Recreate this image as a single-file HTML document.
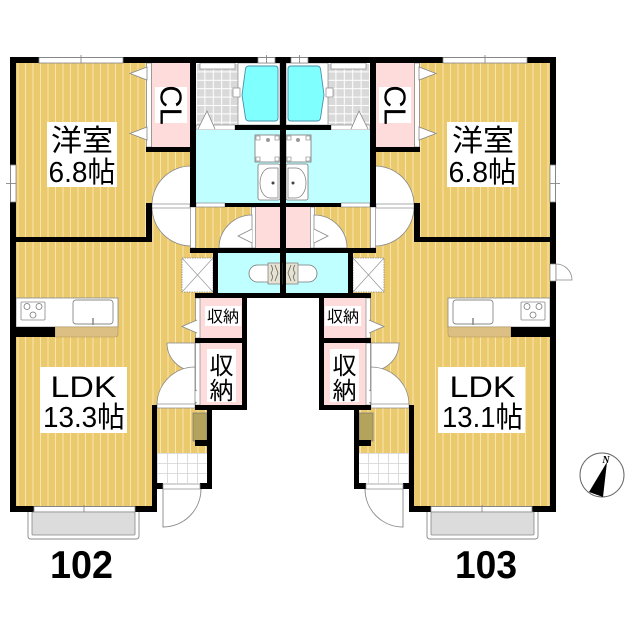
<!DOCTYPE html>
<html><head><meta charset="utf-8"><style>
html,body{margin:0;padding:0;background:#fff}
svg{display:block}
text{font-family:"Liberation Sans","Noto Sans CJK JP",sans-serif;fill:#000}
</style></head><body>
<svg width="640" height="640" viewBox="0 0 640 640" xmlns="http://www.w3.org/2000/svg">
<defs>
<pattern id="fl" patternUnits="userSpaceOnUse" x="25" y="0" width="7.5" height="10">
<rect width="7.5" height="10" fill="#ebc96d"/><rect width="1" height="10" fill="#f7e6b0"/>
</pattern>
<pattern id="tile" patternUnits="userSpaceOnUse" x="196" y="63" width="8.4" height="8.4">
<rect width="8.4" height="8.4" fill="#d9d9d9"/><path d="M0 0.5H8.4M0.5 0V8.4" stroke="#fff" stroke-width="1"/>
</pattern>
<pattern id="gt" patternUnits="userSpaceOnUse" x="157" y="453" width="10" height="10">
<rect width="10" height="10" fill="#fff"/><path d="M0 0.5H10M0.5 0V10" stroke="#d4d4d4" stroke-width="0.8"/>
</pattern>
<g id="u">
<!-- floors -->
<rect x="16" y="63" width="197" height="347" fill="url(#fl)"/>
<rect x="16" y="410" width="136" height="96" fill="url(#fl)"/>
<rect x="196" y="207" width="59" height="41" fill="url(#fl)"/>
<rect x="157" y="410" width="50" height="43" fill="url(#fl)"/>
<rect x="157" y="453" width="50" height="30" fill="url(#gt)"/>
<!-- CL -->
<rect x="152" y="63" width="38" height="84" fill="#ffdcdc"/>
<rect x="146.5" y="63" width="5" height="84" fill="#fff" stroke="#888" stroke-width="0.8"/>
<path d="M147,67 L130,73.5 L147,80 Z M147,127 L130,133.5 L147,140 Z" fill="#fff" stroke="#888" stroke-width="0.8"/>
<!-- bath -->
<rect x="196" y="63" width="42" height="62" fill="url(#tile)"/>
<rect x="200" y="63" width="35" height="6" fill="#fff" stroke="#888" stroke-width="0.7"/>
<rect x="196" y="125" width="39" height="5" fill="#fff" stroke="#888" stroke-width="0.7"/>
<path d="M198,129 L207,111 L215,129" fill="#fff" stroke="#888" stroke-width="0.8"/>
<rect x="238" y="63" width="42" height="62" fill="#fff" stroke="#888" stroke-width="0.7"/>
<path d="M249,66 L275,66 Q278,66 278,69 L278,118 Q278,121 275,121 L249,121 Q246,121 245.5,118 L242,95 L245.5,69 Q246,66 249,66 Z" fill="#80ffff" stroke="#4a8fa8" stroke-width="0.9"/>
<rect x="233" y="88" width="7" height="9" fill="#fff" stroke="#888" stroke-width="0.7"/>
<!-- washroom -->
<rect x="196" y="130" width="84" height="73" fill="#c0ffff"/>
<rect x="255" y="135" width="25" height="27" fill="#fff" stroke="#777" stroke-width="0.8"/>
<path d="M256,136h4v4h-4z M275,136h4v4h-4z M256,157h4v4h-4z M275,157h4v4h-4z" fill="none" stroke="#777" stroke-width="0.6"/>
<circle cx="268" cy="140" r="2" fill="#999"/>
<rect x="258" y="164" width="22" height="36" rx="2" fill="#fff" stroke="#777" stroke-width="0.8"/>
<path d="M278,168 H270 A10 15 0 0 0 270,198 H278 Z" fill="#fff" stroke="#777" stroke-width="0.7"/>
<circle cx="273" cy="183" r="1.5" fill="#444"/>
<rect x="196" y="203" width="29" height="4" fill="#fff" stroke="#888" stroke-width="0.7"/>
<!-- doors near 洋室 -->
<path d="M191,205 L152,205 A39 39 0 0 1 191,166 Z" fill="#fff" stroke="#888" stroke-width="0.8"/>
<path d="M191,207 L191,246 A39 39 0 0 1 152,207 Z" fill="#fff" stroke="#888" stroke-width="0.8"/>
<rect x="152" y="204" width="38" height="4" fill="#fff" stroke="#888" stroke-width="0.7"/>
<rect x="190.5" y="207" width="5" height="41" fill="#fff" stroke="#888" stroke-width="0.7"/>
<!-- hallway storage -->
<rect x="255" y="207" width="25" height="41" fill="#ffdcdc"/>
<rect x="251.5" y="207" width="4" height="41" fill="#fff" stroke="#888" stroke-width="0.7"/>
<path d="M252,248 L219,248 A33 33 0 0 1 252,215 Z" fill="#fff" stroke="#888" stroke-width="0.8"/>
<path d="M252,229 L238,236 L252,243" fill="#fff" stroke="#888" stroke-width="0.8"/>
<!-- toilet -->
<rect x="218" y="253" width="62" height="40" fill="#c0ffff"/>
<path d="M283,265 H257.5 A8.5 8.5 0 0 0 257.5,282 H283" fill="#fff" stroke="#777" stroke-width="0.8"/>
<rect x="268" y="263" width="15" height="21" fill="#e6e2d2" stroke="#777" stroke-width="0.7"/>
<path d="M271,265 q3,4 0,8 q3,4 0,8 M275,265 l3,8 l-3,8" fill="none" stroke="#666" stroke-width="0.8"/>
<!-- hatched box -->
<rect x="182" y="258" width="31" height="34" fill="#fff" stroke="#888" stroke-width="0.8" stroke-dasharray="1.5,1"/>
<path d="M182,258 L213,292 M213,258 L182,292" stroke="#999" stroke-width="0.7"/>
<!-- storages -->
<rect x="200" y="298" width="42" height="40" fill="#ffdcdc"/>
<rect x="200" y="343" width="42" height="62" fill="#ffdcdc"/>
<rect x="195.5" y="298" width="4.5" height="40" fill="#fff" stroke="#888" stroke-width="0.7"/>
<rect x="195.5" y="343" width="4.5" height="62" fill="#fff" stroke="#888" stroke-width="0.7"/>
<path d="M197,320 L182,326.5 L197,333 M197,390 L184,396.5 L197,403" fill="#fff" stroke="#888" stroke-width="0.8"/>
<path d="M195,343 L195,371 A28 28 0 0 1 167,343 Z" fill="#fff" stroke="#888" stroke-width="0.8"/>
<path d="M195,405 L157,405 A38 38 0 0 1 195,367 Z" fill="#fff" stroke="#888" stroke-width="0.8"/>
<rect x="157" y="404" width="38" height="4" fill="#fff" stroke="#888" stroke-width="0.7"/>
<!-- entrance -->
<rect x="193" y="413" width="14" height="28" fill="#b3a35c" stroke="#777" stroke-width="0.7"/>
<path d="M163,489 V527 A38 38 0 0 0 201,489" fill="#fff" stroke="#888" stroke-width="0.9"/>
<!-- kitchen -->
<rect x="16" y="298" width="102" height="29" fill="#fff" stroke="#888" stroke-width="0.8"/>
<rect x="21" y="302" width="24" height="18" rx="1" fill="none" stroke="#888" stroke-width="0.8"/>
<circle cx="27" cy="306.5" r="3" fill="none" stroke="#777" stroke-width="0.8"/>
<circle cx="39" cy="306.5" r="3" fill="none" stroke="#777" stroke-width="0.8"/>
<circle cx="33" cy="315" r="3" fill="none" stroke="#777" stroke-width="0.8"/>
<rect x="73" y="300" width="40" height="24" rx="3" fill="none" stroke="#888" stroke-width="0.9"/>
<path d="M93,318 V325" stroke="#888" stroke-width="1.5"/>
<path d="M55,327 H118 V334 Q118,337 115,337 H55 Z" fill="#dcc083" stroke="#b49458" stroke-width="0.6"/>
<!-- walls -->
<g fill="#000">
<rect x="10" y="57" width="273" height="6"/>
<rect x="10" y="57" width="6" height="455"/>
<rect x="10" y="237" width="142" height="5"/>
<rect x="146" y="203" width="6" height="39"/>
<rect x="146" y="147" width="50" height="5"/>
<rect x="190" y="57" width="6" height="150"/>
<rect x="235" y="125" width="48" height="5"/>
<rect x="225" y="203" width="58" height="4"/>
<rect x="280" y="57" width="3" height="241"/>
<rect x="190" y="248" width="93" height="5"/>
<rect x="213" y="248" width="5" height="50"/>
<rect x="195" y="293" width="88" height="5"/>
<rect x="242" y="293" width="5" height="117"/>
<rect x="195" y="338" width="52" height="5"/>
<rect x="195" y="405" width="52" height="5"/>
<rect x="10" y="506" width="147" height="6"/>
<rect x="152" y="405" width="5" height="107"/>
<rect x="207" y="405" width="5" height="84"/>
<rect x="152" y="483" width="11" height="6"/>
<rect x="200" y="483" width="12" height="6"/>
<rect x="195" y="440" width="12" height="6"/>
<rect x="16" y="327" width="39" height="10"/>
</g>
<rect x="163" y="484" width="37" height="5" fill="#fff" stroke="#888" stroke-width="0.7"/>
<!-- windows -->
<rect x="39" y="57.5" width="84" height="5.5" fill="#fff" stroke="#888" stroke-width="0.8"/>
<path d="M81,55 V63" stroke="#888" stroke-width="0.9"/>
<rect x="10.5" y="165" width="5.5" height="37" fill="#fff" stroke="#888" stroke-width="0.8"/>
<path d="M6,183.5 H16" stroke="#888" stroke-width="0.9"/>
<rect x="258" y="57.5" width="17" height="5.5" fill="#fff" stroke="#888" stroke-width="0.8"/>
<path d="M266.5,55 V63" stroke="#888" stroke-width="0.9"/>
<rect x="34" y="506.5" width="101" height="5.5" fill="#fff" stroke="#888" stroke-width="0.8"/>
<path d="M84,505 V514" stroke="#888" stroke-width="0.9"/>
<path d="M28,512 V536 Q28,539 31,539 H136 Q139,539 139,536 V512" fill="none" stroke="#888" stroke-width="0.9"/>
<rect x="32" y="512" width="103" height="23" rx="1" fill="#dcdcdc" stroke="#888" stroke-width="0.8"/>
</g>
</defs>
<rect width="640" height="640" fill="#fff"/>
<use href="#u"/>
<use href="#u" transform="translate(566,0) scale(-1,1)"/>
<!-- right unit exterior door -->
<rect x="550" y="264" width="6" height="17" fill="#fff" stroke="#888" stroke-width="0.7"/>
<path d="M556,280 V264 A16 16 0 0 1 572,280 Z" fill="#fff" stroke="#888" stroke-width="0.8"/>
<!-- label backgrounds -->
<g fill="#fff">
<rect x="47" y="122" width="70" height="65"/>
<rect x="40" y="367" width="87" height="66"/>
<rect x="155" y="87" width="32" height="36"/>
<rect x="205" y="306" width="36" height="20"/>
<rect x="207" y="349" width="29" height="53"/>
<rect x="447" y="122" width="71" height="65"/>
<rect x="438" y="367" width="87" height="66"/>
<rect x="379" y="87" width="32" height="36"/>
<rect x="325" y="306" width="36" height="20"/>
<rect x="330" y="349" width="29" height="53"/>
</g>
<!-- texts -->
<text x="82" y="151" font-size="30" text-anchor="middle" textLength="62" lengthAdjust="spacingAndGlyphs">洋室</text>
<text x="82" y="182" font-size="29" text-anchor="middle" textLength="67" lengthAdjust="spacingAndGlyphs">6.8帖</text>
<text x="83.5" y="397" font-size="30" text-anchor="middle" textLength="66" lengthAdjust="spacingAndGlyphs">LDK</text>
<text x="84" y="427" font-size="29" text-anchor="middle" textLength="82" lengthAdjust="spacingAndGlyphs">13.3帖</text>
<text x="483" y="151" font-size="30" text-anchor="middle" textLength="62" lengthAdjust="spacingAndGlyphs">洋室</text>
<text x="482.5" y="182" font-size="29" text-anchor="middle" textLength="68" lengthAdjust="spacingAndGlyphs">6.8帖</text>
<text x="482.5" y="397" font-size="30" text-anchor="middle" textLength="66" lengthAdjust="spacingAndGlyphs">LDK</text>
<text x="482.5" y="427" font-size="29" text-anchor="middle" textLength="81" lengthAdjust="spacingAndGlyphs">13.1帖</text>
<text transform="translate(171,105) rotate(90)" font-size="31" text-anchor="middle" dominant-baseline="central">CL</text>
<text transform="translate(395,105) rotate(90)" font-size="31" text-anchor="middle" dominant-baseline="central">CL</text>
<text x="223" y="322" font-size="16" text-anchor="middle">収納</text>
<text x="343" y="322" font-size="16" text-anchor="middle">収納</text>
<text x="221.5" y="374" font-size="24" text-anchor="middle">収</text>
<text x="221.5" y="399" font-size="24" text-anchor="middle">納</text>
<text x="344.5" y="374" font-size="24" text-anchor="middle">収</text>
<text x="344.5" y="399" font-size="24" text-anchor="middle">納</text>
<text x="81.5" y="578" font-size="39" font-weight="bold" text-anchor="middle" textLength="63" lengthAdjust="spacingAndGlyphs">102</text>
<text x="486" y="578" font-size="39" font-weight="bold" text-anchor="middle" textLength="62" lengthAdjust="spacingAndGlyphs">103</text>
<!-- compass -->
<circle cx="602" cy="475" r="22" fill="#fff" stroke="#666" stroke-width="1"/>
<path d="M607,462 L589,492 L603,497 Z" fill="#000"/>
<text x="606" y="463" font-size="10" font-style="italic" font-weight="bold" text-anchor="middle" style="font-family:'Liberation Serif',serif">N</text>
</svg>
</body></html>
